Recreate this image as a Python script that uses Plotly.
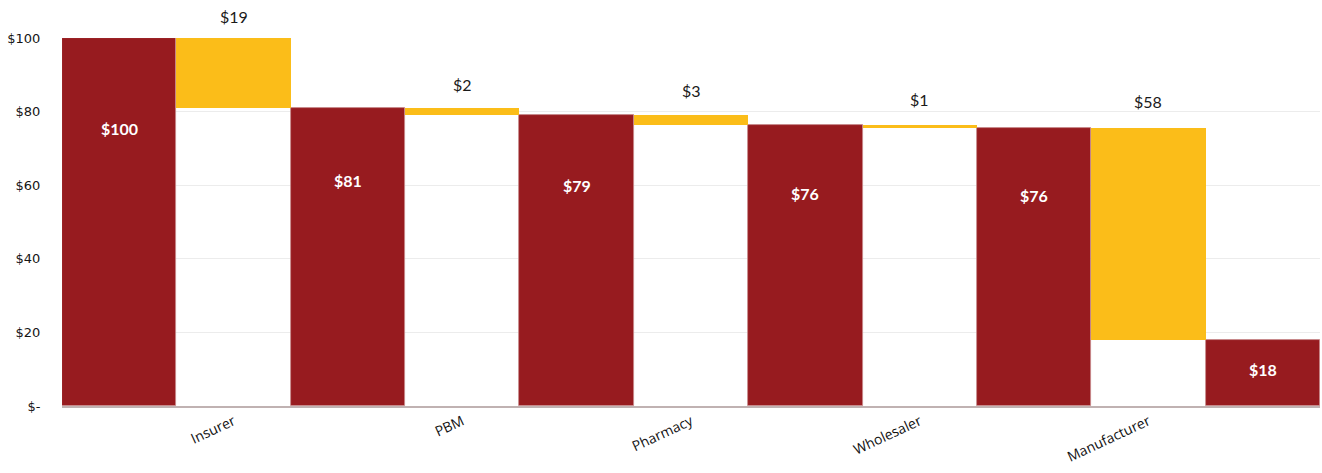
import plotly.graph_objects as go

# Running price at each stage and the share each intermediary takes
stage_totals = [100.0, 81.0, 79.2, 76.4, 75.6, 18.0]
intermediaries = ["Insurer", "PBM", "Pharmacy", "Wholesaler", "Manufacturer"]
intermediary_cuts = [19.0, 1.8, 2.8, 0.8, 57.6]
y_tick_values = [0, 20, 40, 60, 80, 100]
y_tick_labels = ["$-", "$20", "$40", "$60", "$80", "$100"]

RED = "#971B1F"
GOLD = "#FBBD19"

total_x = [2 * i for i in range(len(stage_totals))]
cut_x = [2 * i + 1 for i in range(len(intermediary_cuts))]
cut_base = stage_totals[1:]

fig = go.Figure()

fig.add_trace(go.Bar(
    x=total_x, y=stage_totals, width=1.0,
    marker=dict(color=RED, line=dict(color="#c78a8c", width=0.8)),
    hoverinfo="skip", showlegend=False,
))
fig.add_trace(go.Bar(
    x=cut_x, y=intermediary_cuts, base=cut_base, width=1.0,
    marker=dict(color=GOLD, line=dict(width=0)),
    hoverinfo="skip", showlegend=False,
))

annotations = []
# value labels inside the running-total bars
for x, v in zip(total_x, stage_totals):
    annotations.append(dict(
        x=x, y=min(0.755 * v, v - 8), xref="x", yref="y",
        text=f"<b>${v:.0f}</b>", showarrow=False,
        font=dict(family="Lato, Open Sans, sans-serif", size=16, color="white"),
    ))
# value labels above each intermediary's cut
for i, (x, v, b) in enumerate(zip(cut_x, intermediary_cuts, cut_base)):
    annotations.append(dict(
        x=x, y=b + v, xref="x", yref="y",
        text=f"${v:.0f}", showarrow=False, yanchor="middle",
        yshift=22 + i,
        font=dict(family="Lato, Open Sans, sans-serif", size=16, color="#1a1a1a"),
    ))

fig.update_layout(
    width=1322, height=473,
    margin=dict(l=62, r=2, t=38, b=67),
    paper_bgcolor="white", plot_bgcolor="white",
    barmode="overlay", bargap=0,
    annotations=annotations,
    xaxis=dict(
        range=[-0.5, 10.5],
        tickmode="array", tickvals=cut_x, ticktext=intermediaries,
        tickangle=-25, showgrid=False, zeroline=False,
        showline=True, linecolor="#c0b2b2", linewidth=2,
        tickfont=dict(family="Open Sans, sans-serif", size=14, color="#111"),
        ticks="", fixedrange=True,
    ),
    yaxis=dict(
        range=[0, 100],
        tickmode="array", tickvals=y_tick_values, ticktext=y_tick_labels,
        showgrid=True, gridcolor="#ececec", gridwidth=1,
        zeroline=False, showline=False,
        ticks="outside", ticklen=18, tickcolor="rgba(0,0,0,0)",
        tickfont=dict(family="DejaVu Sans, sans-serif", size=13, color="#151515"),
        fixedrange=True,
    ),
)

fig.write_html("out.html")
